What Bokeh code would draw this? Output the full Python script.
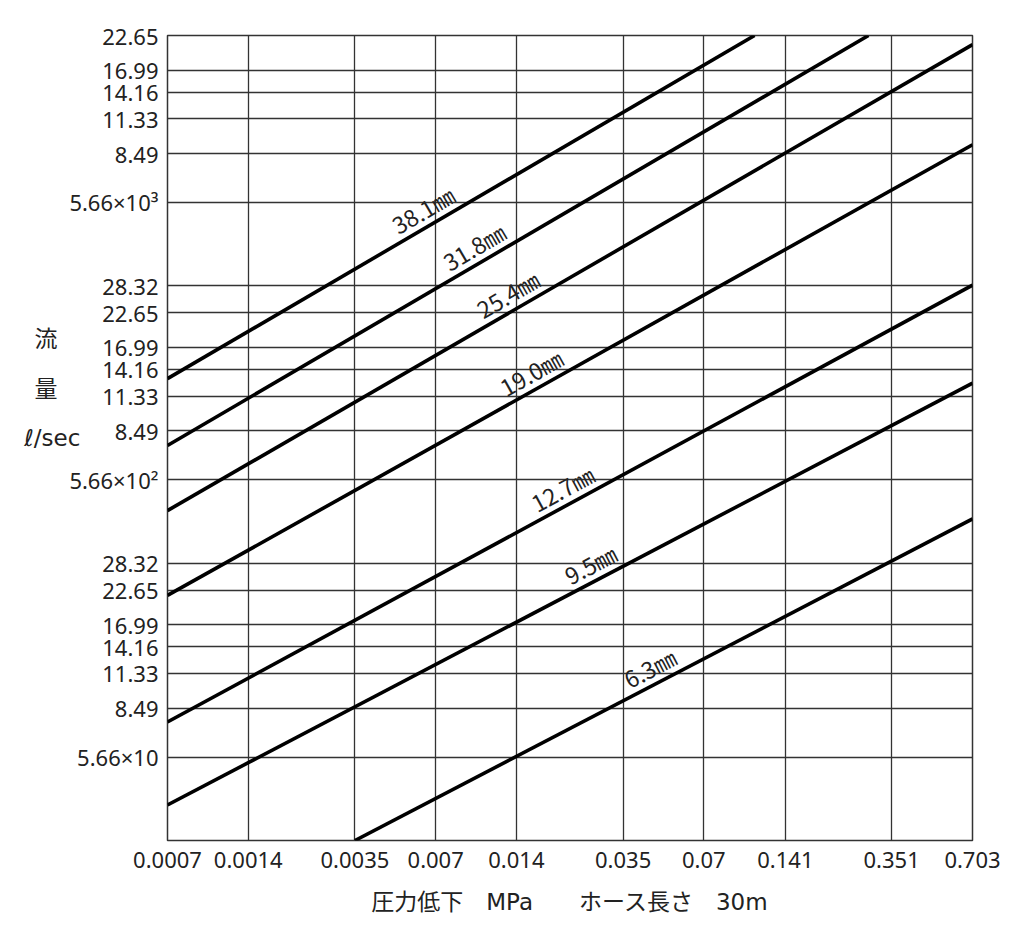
import math
from bokeh.plotting import figure
from bokeh.models import Range1d, FixedTicker
from bokeh.embed import file_html
from bokeh.resources import INLINE
from bokeh.core.properties import value

# ---- data -------------------------------------------------------------
x_ticks = [0.0007, 0.0014, 0.0035, 0.007, 0.014, 0.035, 0.07, 0.141, 0.351, 0.703]
x_tick_labels = ["0.0007", "0.0014", "0.0035", "0.007", "0.014",
                 "0.035", "0.07", "0.141", "0.351", "0.703"]

y_ticks = [56.6, 84.9, 113.3, 141.6, 169.9, 226.5, 283.2,
           566, 849, 1133, 1416, 1699, 2265, 2832,
           5660, 8490, 11330, 14160, 16990, 22650]
y_tick_labels = ["5.66×10", "8.49", "11.33", "14.16", "16.99", "22.65", "28.32",
                 "5.66×10²", "8.49", "11.33", "14.16", "16.99", "22.65", "28.32",
                 "5.66×10³", "8.49", "11.33", "14.16", "16.99", "22.65"]

x_min, x_max = 0.0007, 0.703
y_min, y_max = 28.3, 22650

hose_labels = ["38.1㎜", "31.8㎜", "25.4㎜", "19.0㎜", "12.7㎜", "9.5㎜", "6.3㎜"]
line_x0 = [0.0007, 0.0007, 0.0007, 0.0007, 0.0007, 0.0007, 0.0035]
line_y0 = [1311, 752, 438, 216.7, 75.7, 38.0, 28.3]
line_x1 = [0.1082, 0.2878, 0.703, 0.703, 0.703, 0.703, 0.703]
line_y1 = [22650, 22650, 20990, 9145, 2850, 1262, 409]
label_x = [0.00676, 0.01048, 0.0140, 0.01708, 0.02228, 0.0283, 0.0471]

x_label = "圧力低下　MPa　　ホース長さ　30m"
y_label = "流\u3000\n量\u3000\nℓ/sec\n\u3000\n\u3000"

# ---- layout -----------------------------------------------------------
CJK = "Noto Sans CJK JP"
NUM = "Noto Sans"
MIX = "DejaVu Sans, Noto Sans CJK JP"
W, H = 1012, 918
BL, BR, BT, BB = 167, 40, 35, 78
FW, FH = W - BL - BR, H - BT - BB

p = figure(width=W, height=H, x_axis_type="log", y_axis_type="log",
           x_range=Range1d(x_min, x_max), y_range=Range1d(y_min, y_max),
           output_backend="svg", toolbar_location=None,
           min_border_left=BL, min_border_right=BR,
           min_border_top=BT, min_border_bottom=BB)
p.background_fill_color = "white"
p.border_fill_color = "white"
p.outline_line_color = "#333333"
p.outline_line_width = 1.5

for ax in (p.xaxis[0], p.yaxis[0]):
    ax.axis_line_color = None
    ax.major_tick_line_color = None
    ax.minor_tick_line_color = None
    ax.major_tick_in = 0
    ax.major_tick_out = 0
    ax.minor_tick_in = 0
    ax.minor_tick_out = 0
    ax.major_label_text_font = NUM
    ax.major_label_text_font_size = "22px"
    ax.major_label_text_color = "#222222"
    ax.axis_label_text_font = MIX
    ax.axis_label_text_font_style = "normal"
    ax.axis_label_text_color = "#222222"

p.xaxis.ticker = FixedTicker(ticks=x_ticks, minor_ticks=[])
p.yaxis.ticker = FixedTicker(ticks=y_ticks, minor_ticks=[])
p.xaxis.major_label_overrides = {t: s for t, s in zip(x_ticks, x_tick_labels)}
p.yaxis.major_label_overrides = {t: s for t, s in zip(y_ticks, y_tick_labels)}
p.xaxis.major_label_standoff = 11
p.yaxis.major_label_standoff = 9

p.xaxis.axis_label = x_label
p.xaxis.axis_label_text_font_size = "23px"
p.xaxis.axis_label_standoff = 18

p.yaxis.axis_label = y_label
p.yaxis.axis_label_orientation = "horizontal"
p.yaxis.axis_label_text_font_size = "23px"
p.yaxis.axis_label_text_line_height = 1.9
p.yaxis.axis_label_standoff = -14

for g in (p.xgrid[0], p.ygrid[0]):
    g.grid_line_color = "#333333"
    g.grid_line_width = 1.3
    g.grid_line_alpha = 1.0

# ---- hose lines ---------------------------------------------------------
lx_dec = math.log10(x_max / x_min)
ly_dec = math.log10(y_max / y_min)
for x0, y0, x1, y1 in zip(line_x0, line_y0, line_x1, line_y1):
    p.line([x0, x1], [y0, y1], line_color="black", line_width=3.6)

tx, ty, ta = [], [], []
for x0, y0, x1, y1, lx in zip(line_x0, line_y0, line_x1, line_y1, label_x):
    k = math.log10(y1 / y0) / math.log10(x1 / x0)
    ly = y0 * (lx / x0) ** k
    tx.append(lx)
    ty.append(ly)
    ta.append(math.atan(k * (FH / ly_dec) / (FW / lx_dec)))

p.text(x=tx, y=ty, text=hose_labels, angle=ta, text_align="center",
       text_baseline="bottom", text_font=value(CJK), text_font_size="23px",
       text_color="#222222")

open("out.html", "w").write(file_html(p, INLINE))
